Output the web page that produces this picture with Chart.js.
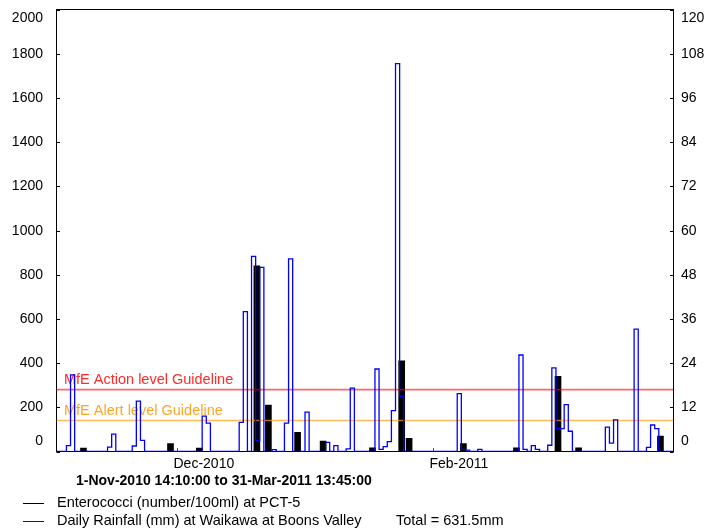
<!DOCTYPE html>
<html>
<head>
<meta charset="utf-8">
<title>Enterococci at PCT-5 and daily rainfall</title>
<script src="https://cdn.jsdelivr.net/npm/chart.js@4/dist/chart.umd.min.js"></script>
<style>
  html, body { margin: 0; padding: 0; background: #fff; overflow: hidden; }
  canvas { display: block; }
</style>
</head>
<body>
<canvas id="chart" width="710" height="530"></canvas>
<script>
// Daily rainfall (mm) at Waikawa at Boons Valley, one value per calendar day
const rainNov2010 = [0, 0, 0, 1.6, 20.8, 0, 0, 0, 0, 0,
                     0, 0, 0, 1.2, 4.7, 0, 0, 0, 0, 1.5,
                     13.7, 3.0, 0, 0, 0, 0, 0, 0, 0, 0];
const rainDec2010 = [0, 0, 0, 0, 0, 0, 9.6, 7.7, 0, 0,
                     0, 0, 0, 0, 0, 7.9, 38.0, 0, 53.0, 3.0,
                     50.0, 0, 0, 0.5, 0, 0, 7.7, 52.3, 0, 0, 0];
const rainJan2011 = [10.7, 0, 0, 0, 0, 2.5, 0, 1.6, 0, 0,
                     0.7, 17.2, 0, 0, 0, 0, 0, 22.4, 0.6, 1.3,
                     2.7, 11.1, 105.3, 15.0, 0, 0, 0, 0, 0, 0, 0];
const rainFeb2011 = [0, 0, 0, 0, 0, 0, 15.7, 0.6, 0.4, 0,
                     0, 0.6, 0, 0, 0, 0, 0, 0, 0, 0,
                     0, 26.2, 0.6, 0, 1.6, 0.6, 0, 0];
const rainMar2011 = [1.7, 22.7, 6.2, 6.2, 12.7, 5.5, 0, 0, 0, 0,
                     0, 0, 0, 0, 6.6, 2.3, 8.6, 0, 0, 0,
                     0, 33.2, 0, 0, 1.1, 7.2, 6.2, 0, 0, 0, 0];
const rainTotalMm = 631.5;

// Enterococci samples: time in days after 1-Nov-2010 00:00, count per 100 ml
const enteroDay   = [7.15, 28.3, 35.3, 49.3, 52.1, 59.2, 65.4, 77.4, 84.5, 86.3, 99.5, 112.4, 122.5, 127.5, 147.4];
const enteroCount = [15,   36,   15,   840,  210,  87,   47,   17,   410,  60,   36,   17,    340,   17,    70];

// MfE recreational water guidelines (number/100ml)
const actionLevel = 280;
const alertLevel  = 140;

// Record period: 1-Nov-2010 14:10:00 to 31-Mar-2011 13:45:00 (days after 1-Nov-2010 00:00)
const periodStart = (14 * 60 + 10) / 1440;
const periodEnd   = 150 + (13 * 60 + 45) / 1440;

// Axis labels
const leftTicks  = [0, 200, 400, 600, 800, 1000, 1200, 1400, 1600, 1800, 2000];
const rightTicks = [0, 12, 24, 36, 48, 60, 72, 84, 96, 108, 120];
const monthTickDays   = [30, 92];
const monthTickLabels = ['Dec-2010', 'Feb-2011'];

const FONT = '"Liberation Sans", Arial, Helvetica, sans-serif';

// Step series: each day's total holds from its midnight to the next
const rainDaily = [].concat(rainNov2010, rainDec2010, rainJan2011, rainFeb2011, rainMar2011);
const rainPoints = rainDaily.map((v, i) => ({ x: i, y: v }));
rainPoints.push({ x: rainDaily.length, y: rainDaily[rainDaily.length - 1] });

const enteroPoints = enteroDay.map((d, i) => ({ x: d, y: enteroCount[i] }));

const levelLine = (v) => [{ x: periodStart, y: v }, { x: periodEnd, y: v }];

// Frame, inward tick marks, tick labels and guideline captions
const axisDecor = {
  id: 'axisDecor',
  beforeDatasetsDraw(chart) {
    const { ctx, chartArea: a, scales } = chart;
    const clampY = (y) => Math.min(Math.max(y, a.top + 8.5), a.bottom - 10.5);
    ctx.save();
    ctx.strokeStyle = '#000';
    ctx.lineWidth = 1;
    ctx.strokeRect(a.left, a.top, a.right - a.left, a.bottom - a.top);

    ctx.font = '14px ' + FONT;
    ctx.fillStyle = '#000';
    ctx.textBaseline = 'middle';

    ctx.textAlign = 'right';
    leftTicks.forEach((v) => {
      const y = Math.round(scales.y.getPixelForValue(v)) + 0.5;
      ctx.beginPath(); ctx.moveTo(a.left, y); ctx.lineTo(a.left + 3.5, y); ctx.stroke();
      ctx.fillText(String(v), a.left - 13.5, clampY(y));
    });

    ctx.textAlign = 'left';
    rightTicks.forEach((v) => {
      const y = Math.round(scales.y2.getPixelForValue(v)) + 0.5;
      ctx.beginPath(); ctx.moveTo(a.right - 3.5, y); ctx.lineTo(a.right, y); ctx.stroke();
      ctx.fillText(String(v), a.right + 7.5, clampY(y));
    });

    monthTickDays.forEach((d, i) => {
      const x = Math.round(scales.x.getPixelForValue(d)) + 0.5;
      ctx.strokeStyle = '#555';
      ctx.beginPath(); ctx.moveTo(x, a.bottom); ctx.lineTo(x, a.bottom - 3.5); ctx.stroke();
      ctx.fillStyle = '#000';
      ctx.fillText(monthTickLabels[i], x - 4, a.bottom + 12.5);
    });

    ctx.font = '14.5px ' + FONT;
    ctx.textBaseline = 'middle';
    ctx.fillStyle = '#ff2a2a';
    ctx.fillText('MfE Action level Guideline', a.left + 7.5, scales.y.getPixelForValue(actionLevel) - 10);
    ctx.fillStyle = '#ffa524';
    ctx.fillText('MfE Alert level Guideline', a.left + 7.5, scales.y.getPixelForValue(alertLevel) - 10);
    ctx.restore();
  },
  afterDraw(chart) {
    const { ctx } = chart;
    ctx.save();
    ctx.textBaseline = 'middle';
    ctx.textAlign = 'left';
    ctx.fillStyle = '#000';
    ctx.font = 'bold 14px ' + FONT;
    ctx.fillText('1-Nov-2010 14:10:00 to 31-Mar-2011 13:45:00', 76, 481.5);

    ctx.lineWidth = 1;
    ctx.strokeStyle = '#000000';
    ctx.beginPath(); ctx.moveTo(23, 503.5); ctx.lineTo(44, 503.5); ctx.stroke();
    ctx.strokeStyle = '#0000ff';
    ctx.beginPath(); ctx.moveTo(23, 521.5); ctx.lineTo(44, 521.5); ctx.stroke();

    ctx.font = '14.5px ' + FONT;
    ctx.fillText('Enterococci (number/100ml) at PCT-5', 57, 503);
    ctx.fillText('Daily Rainfall (mm) at Waikawa at Boons Valley', 57, 521);
    ctx.fillText('Total = ' + rainTotalMm.toFixed(1) + 'mm', 396, 521);
    ctx.restore();
  }
};

new Chart(document.getElementById('chart'), {
  type: 'bar',
  data: {
    datasets: [
      {
        type: 'line',
        label: 'Daily Rainfall (mm) at Waikawa at Boons Valley',
        data: rainPoints,
        yAxisID: 'y2',
        stepped: true,
        borderColor: '#0000ff',
        borderWidth: 1.3,
        pointRadius: 0,
        fill: false,
        order: 0
      },
      {
        type: 'line',
        label: 'MfE Action level Guideline',
        data: levelLine(actionLevel),
        yAxisID: 'y',
        borderColor: 'rgba(255, 0, 0, 0.6)',
        borderWidth: 1.6,
        pointRadius: 0,
        fill: false,
        order: 1
      },
      {
        type: 'line',
        label: 'MfE Alert level Guideline',
        data: levelLine(alertLevel),
        yAxisID: 'y',
        borderColor: 'rgba(255, 160, 20, 0.7)',
        borderWidth: 1.6,
        pointRadius: 0,
        fill: false,
        order: 1
      },
      {
        type: 'bar',
        label: 'Enterococci (number/100ml) at PCT-5',
        data: enteroPoints,
        yAxisID: 'y',
        backgroundColor: '#000000',
        borderWidth: 0,
        barThickness: 6,
        grouped: false,
        order: 2
      }
    ]
  },
  options: {
    responsive: false,
    animation: false,
    devicePixelRatio: 1,
    layout: { padding: { left: 56.5, right: 36.5, top: 9.5, bottom: 78.5 } },
    plugins: { legend: { display: false }, tooltip: { enabled: false }, title: { display: false } },
    scales: {
      x: { type: 'linear', min: periodStart, max: periodEnd, offset: false, display: false },
      y: { type: 'linear', position: 'left', min: 0, max: 2000, display: false },
      y2: { type: 'linear', position: 'right', min: 0, max: 120, display: false }
    }
  },
  plugins: [axisDecor]
});
</script>
</body>
</html>
